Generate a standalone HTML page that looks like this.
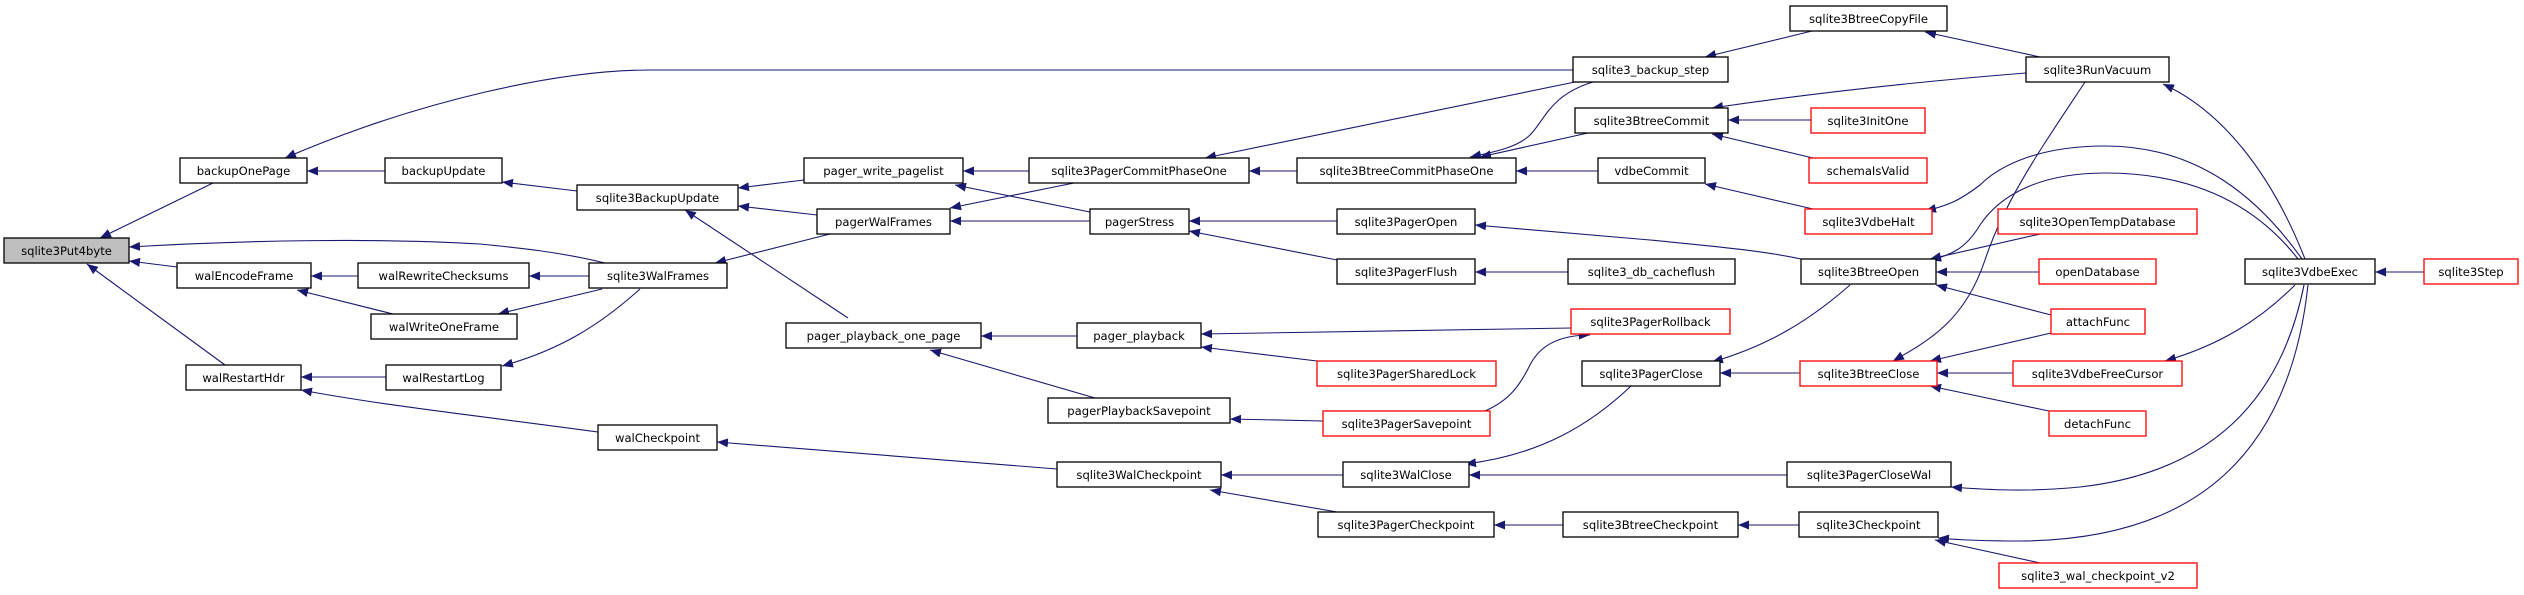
<!DOCTYPE html>
<html><head><meta charset="utf-8"><style>
html,body{margin:0;padding:0;background:#fff;width:2524px;height:595px;overflow:hidden}
svg{display:block}
text{font-family:"DejaVu Sans","Liberation Sans",sans-serif;font-size:11.6px;fill:#000;text-anchor:middle}
.n{fill:#fff;stroke:#000;stroke-width:1.3}
.r{fill:#fff;stroke:#ff0000;stroke-width:1.3}
.e{fill:none;stroke:#191970;stroke-width:1.1;marker-end:url(#a)}
</style></head><body>
<svg width="2524" height="595" viewBox="0 0 2524 595" xmlns="http://www.w3.org/2000/svg">
<defs><marker id="a" markerUnits="userSpaceOnUse" markerWidth="12" markerHeight="9" refX="11" refY="4.5" orient="auto"><path d="M0,0 L11,4.5 L0,9 z" fill="#191970"/></marker></defs>
<g>
<path class="e" d="M1573,70 L650,70 C560,70 420,100 285,158"/>
<path class="e" d="M213,183 L100,238"/>
<path class="e" d="M385,171 L307,171"/>
<path class="e" d="M577,191 L502,182"/>
<path class="e" d="M804,180 L738,188"/>
<path class="e" d="M817,215 L738,206"/>
<path class="e" d="M848,318 L685,210"/>
<path class="e" d="M177,267 L129,261"/>
<path class="e" d="M605,263 C560,252 520,248 480,244 C380,238 250,240 129,247"/>
<path class="e" d="M225,365 L87,264"/>
<path class="e" d="M358,276 L311,276"/>
<path class="e" d="M393,314 L297,290"/>
<path class="e" d="M589,276 L529,276"/>
<path class="e" d="M602,289 L498,314"/>
<path class="e" d="M386,377 L301,377"/>
<path class="e" d="M640,289 C600,325 560,350 502,366"/>
<path class="e" d="M598,432 C480,416 380,405 301,390"/>
<path class="e" d="M830,234 L715,263"/>
<path class="e" d="M1057,469 L717,442"/>
<path class="e" d="M1029,171 L963,171"/>
<path class="e" d="M1090,212 L955,185"/>
<path class="e" d="M1074,183 L950,208"/>
<path class="e" d="M1090,221 L950,221"/>
<path class="e" d="M1575,82 L1205,158"/>
<path class="e" d="M1297,171 L1249,171"/>
<path class="e" d="M1593,82 C1550,95 1545,120 1530,135 C1518,147 1495,152 1470,157"/>
<path class="e" d="M1588,133 L1480,157"/>
<path class="e" d="M1598,171 L1516,171"/>
<path class="e" d="M1337,221 L1189,221"/>
<path class="e" d="M1337,260 L1189,231"/>
<path class="e" d="M1568,272 L1475,272"/>
<path class="e" d="M1801,259 C1760,250 1700,245 1650,240 L1475,225"/>
<path class="e" d="M1077,336 L981,336"/>
<path class="e" d="M1095,398 L930,350"/>
<path class="e" d="M1571,328 L1201,334"/>
<path class="e" d="M1317,361 L1201,347"/>
<path class="e" d="M1323,421 L1230,419"/>
<path class="e" d="M1485,411 C1510,400 1520,385 1530,365 C1540,345 1560,335 1590,335"/>
<path class="e" d="M1343,475 L1221,475"/>
<path class="e" d="M1337,512 L1210,490"/>
<path class="e" d="M1631,386 C1590,425 1540,455 1465,464"/>
<path class="e" d="M1787,475 L1469,475"/>
<path class="e" d="M1563,525 L1494,525"/>
<path class="e" d="M1800,373 L1720,373"/>
<path class="e" d="M1850,285 C1810,320 1770,345 1712,362"/>
<path class="e" d="M1812,31 L1705,57"/>
<path class="e" d="M2040,57 L1925,32"/>
<path class="e" d="M2026,73 C1900,83 1800,95 1712,108"/>
<path class="e" d="M1811,120 L1728,120"/>
<path class="e" d="M1813,158 L1712,134"/>
<path class="e" d="M1813,209 L1705,184"/>
<path class="e" d="M2040,234 L1930,259"/>
<path class="e" d="M2039,272 L1936,272"/>
<path class="e" d="M2051,315 L1936,285"/>
<path class="e" d="M2051,333 L1930,361"/>
<path class="e" d="M2013,373 L1937,373"/>
<path class="e" d="M2049,411 L1930,386"/>
<path class="e" d="M2085,82 C2040,150 2005,200 1985,260 C1965,320 1930,340 1893,361"/>
<path class="e" d="M2305,259 C2270,170 2220,110 2163,84"/>
<path class="e" d="M2302,259 C2260,200 2200,146 2105,146 C2040,146 2000,165 1980,185 C1960,200 1950,205 1925,211"/>
<path class="e" d="M2298,259 C2260,210 2200,173 2105,173 C2040,173 2000,195 1980,225 C1965,250 1950,255 1930,260"/>
<path class="e" d="M2295,285 C2260,320 2220,345 2165,361"/>
<path class="e" d="M2304,285 C2285,380 2230,470 2080,487 C2030,492 1990,490 1951,487"/>
<path class="e" d="M2308,285 C2290,450 2200,540 2020,541 C1990,541 1960,540 1938,538"/>
<path class="e" d="M2040,563 L1935,540"/>
<path class="e" d="M1799,525 L1738,525"/>
<path class="e" d="M2424,272 L2375,272"/>
</g>
<g>
<rect x="4" y="238" width="125" height="25" fill="#bfbfbf" stroke="#000" stroke-width="1.3"/><text x="66.5" y="255">sqlite3Put4byte</text>
<rect class="n" x="180" y="158" width="127" height="25"/><text x="243.5" y="175">backupOnePage</text>
<rect class="n" x="385" y="158" width="117" height="25"/><text x="443.5" y="175">backupUpdate</text>
<rect class="n" x="577" y="185" width="161" height="25"/><text x="657.5" y="202">sqlite3BackupUpdate</text>
<rect class="n" x="177" y="263" width="134" height="25"/><text x="244" y="280">walEncodeFrame</text>
<rect class="n" x="358" y="263" width="171" height="25"/><text x="443.5" y="280">walRewriteChecksums</text>
<rect class="n" x="589" y="263" width="138" height="25"/><text x="658" y="280">sqlite3WalFrames</text>
<rect class="n" x="371" y="314" width="146" height="25"/><text x="444" y="331">walWriteOneFrame</text>
<rect class="n" x="186" y="365" width="115" height="25"/><text x="243.5" y="382">walRestartHdr</text>
<rect class="n" x="386" y="365" width="115" height="25"/><text x="443.5" y="382">walRestartLog</text>
<rect class="n" x="598" y="425" width="119" height="25"/><text x="657.5" y="442">walCheckpoint</text>
<rect class="n" x="804" y="158" width="159" height="25"/><text x="883.5" y="175">pager_write_pagelist</text>
<rect class="n" x="817" y="209" width="133" height="25"/><text x="883.5" y="226">pagerWalFrames</text>
<rect class="n" x="786" y="323" width="195" height="25"/><text x="883.5" y="340">pager_playback_one_page</text>
<rect class="n" x="1029" y="158" width="220" height="25"/><text x="1139" y="175">sqlite3PagerCommitPhaseOne</text>
<rect class="n" x="1297" y="158" width="219" height="25"/><text x="1406.5" y="175">sqlite3BtreeCommitPhaseOne</text>
<rect class="n" x="1598" y="158" width="107" height="25"/><text x="1651.5" y="175">vdbeCommit</text>
<rect class="n" x="1573" y="57" width="155" height="25"/><text x="1650.5" y="74">sqlite3_backup_step</text>
<rect class="n" x="1575" y="108" width="153" height="25"/><text x="1651.5" y="125">sqlite3BtreeCommit</text>
<rect class="n" x="1090" y="209" width="99" height="25"/><text x="1139.5" y="226">pagerStress</text>
<rect class="n" x="1337" y="209" width="138" height="25"/><text x="1406" y="226">sqlite3PagerOpen</text>
<rect class="n" x="1337" y="259" width="138" height="25"/><text x="1406" y="276">sqlite3PagerFlush</text>
<rect class="n" x="1568" y="259" width="167" height="25"/><text x="1651.5" y="276">sqlite3_db_cacheflush</text>
<rect class="n" x="1077" y="323" width="124" height="25"/><text x="1139" y="340">pager_playback</text>
<rect class="r" x="1571" y="309" width="159" height="25"/><text x="1650.5" y="326">sqlite3PagerRollback</text>
<rect class="r" x="1317" y="361" width="179" height="25"/><text x="1406.5" y="378">sqlite3PagerSharedLock</text>
<rect class="n" x="1582" y="361" width="138" height="25"/><text x="1651" y="378">sqlite3PagerClose</text>
<rect class="n" x="1048" y="398" width="182" height="25"/><text x="1139" y="415">pagerPlaybackSavepoint</text>
<rect class="r" x="1323" y="411" width="167" height="25"/><text x="1406.5" y="428">sqlite3PagerSavepoint</text>
<rect class="n" x="1057" y="462" width="164" height="25"/><text x="1139" y="479">sqlite3WalCheckpoint</text>
<rect class="n" x="1343" y="462" width="126" height="25"/><text x="1406" y="479">sqlite3WalClose</text>
<rect class="n" x="1318" y="512" width="176" height="25"/><text x="1406" y="529">sqlite3PagerCheckpoint</text>
<rect class="n" x="1563" y="512" width="175" height="25"/><text x="1650.5" y="529">sqlite3BtreeCheckpoint</text>
<rect class="n" x="1790" y="6" width="157" height="25"/><text x="1868.5" y="23">sqlite3BtreeCopyFile</text>
<rect class="n" x="2026" y="57" width="143" height="25"/><text x="2097.5" y="74">sqlite3RunVacuum</text>
<rect class="r" x="1811" y="108" width="114" height="25"/><text x="1868" y="125">sqlite3InitOne</text>
<rect class="r" x="1809" y="158" width="118" height="25"/><text x="1868" y="175">schemaIsValid</text>
<rect class="r" x="1805" y="209" width="127" height="25"/><text x="1868.5" y="226">sqlite3VdbeHalt</text>
<rect class="n" x="1801" y="259" width="135" height="25"/><text x="1868.5" y="276">sqlite3BtreeOpen</text>
<rect class="r" x="1998" y="209" width="199" height="25"/><text x="2097.5" y="226">sqlite3OpenTempDatabase</text>
<rect class="r" x="2039" y="259" width="117" height="25"/><text x="2097.5" y="276">openDatabase</text>
<rect class="n" x="2245" y="259" width="130" height="25"/><text x="2310" y="276">sqlite3VdbeExec</text>
<rect class="r" x="2424" y="259" width="94" height="25"/><text x="2471" y="276">sqlite3Step</text>
<rect class="r" x="2051" y="309" width="94" height="25"/><text x="2098" y="326">attachFunc</text>
<rect class="r" x="1800" y="361" width="137" height="25"/><text x="1868.5" y="378">sqlite3BtreeClose</text>
<rect class="r" x="2013" y="361" width="169" height="25"/><text x="2097.5" y="378">sqlite3VdbeFreeCursor</text>
<rect class="r" x="2049" y="411" width="97" height="25"/><text x="2097.5" y="428">detachFunc</text>
<rect class="n" x="1787" y="462" width="164" height="25"/><text x="1869" y="479">sqlite3PagerCloseWal</text>
<rect class="n" x="1799" y="512" width="139" height="25"/><text x="1868.5" y="529">sqlite3Checkpoint</text>
<rect class="r" x="1999" y="563" width="198" height="25"/><text x="2098" y="580">sqlite3_wal_checkpoint_v2</text>
</g>
</svg>
</body></html>
